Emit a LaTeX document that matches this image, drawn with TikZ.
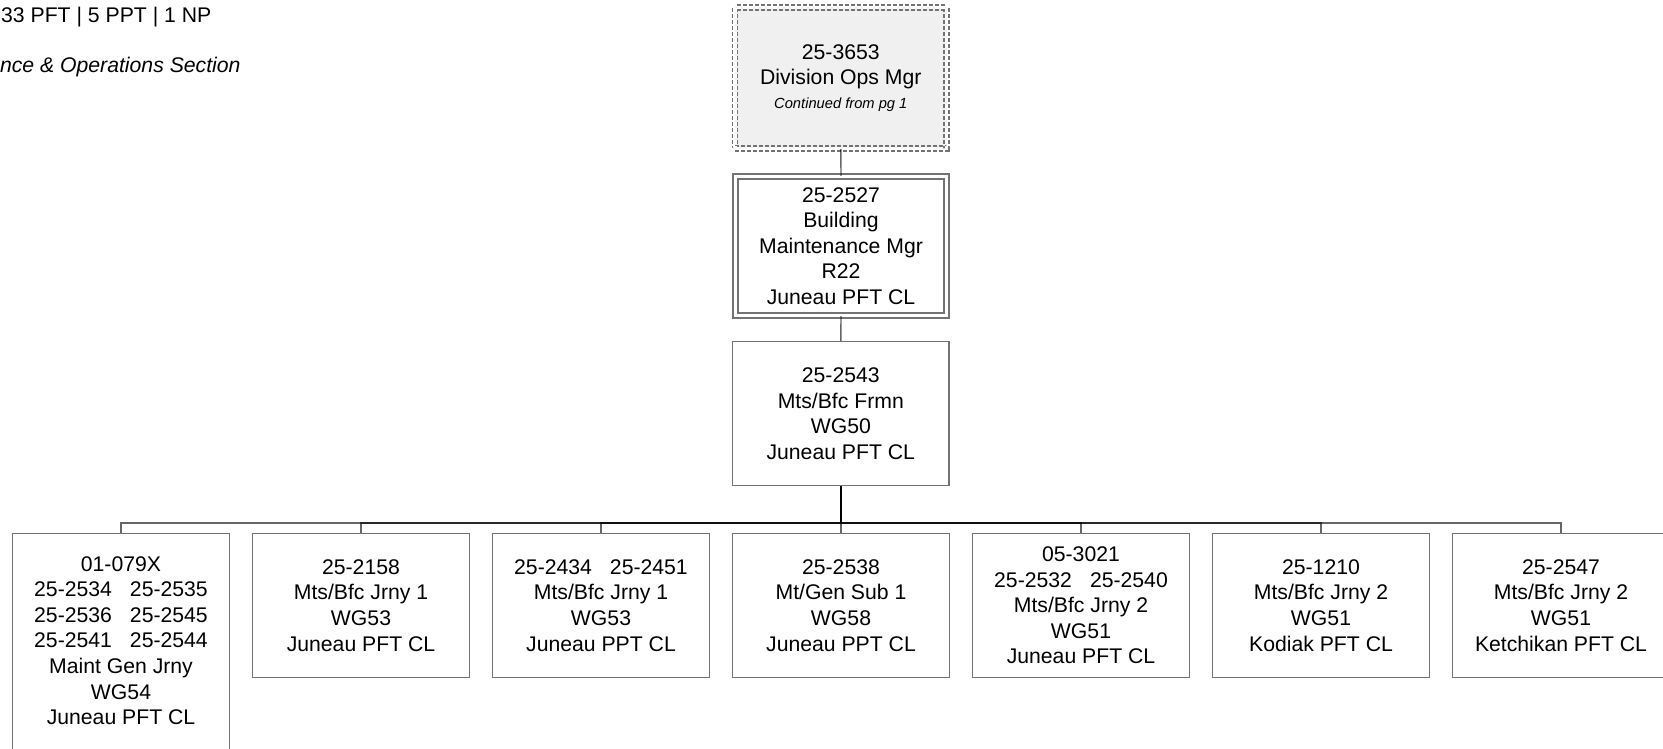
\documentclass[tikz,border=0pt]{standalone}
\usepackage{fontspec}
\setmainfont{Liberation Sans}
\newcommand{\orgfont}{\fontsize{21.2bp}{25.6bp}\selectfont}
\newcommand{\pcnpair}[2]{#1\hspace{0.85em}#2}
\tikzset{
  post/.style={draw=black!55, line width=1.4bp, align=center, inner sep=0pt,
    minimum width=216.6bp, minimum height=144bp, font=\orgfont},
  link/.style={draw=black, draw opacity=0.6, line width=1.4bp},
}
\begin{document}
\begin{tikzpicture}[x=1bp, y=-1bp]
  \useasboundingbox (0,0) rectangle (1663,749);
  % header lines, cut off at the page edge
  \node[anchor=base west, inner sep=0pt, font=\orgfont] (count) at (1,22.7) {33 PFT | 5 PPT | 1 NP};
  \node[anchor=base east, inner sep=0pt, font=\orgfont\itshape] (section) at (240.7,72.7) {nce \& Operations Section};

  \node[post, fill=black!6, dash pattern=on 4bp off 2bp, double, double distance=3.6bp,
    minimum width=211.5bp, minimum height=140.8bp] (divmgr) at (840.8,77.9)
    {25-3653\\Division Ops Mgr\\[-2bp]{\fontsize{14.7bp}{18bp}\selectfont\itshape Continued from pg 1}};
  \node[post, double, double distance=3.6bp, minimum width=211bp, minimum height=139bp] (bldmgr) at (841,246)
    {25-2527\\Building\\Maintenance Mgr\\R22\\Juneau PFT CL};
  \node[post] (frmn) at (840.8,413.7) {25-2543\\Mts/Bfc Frmn\\WG50\\Juneau PFT CL};

  % staff row (first box runs off the bottom of the page)
  \node[post, minimum height=222bp, text depth=8bp] (c1) at (121,644.4)
    {01-079X\\\pcnpair{25-2534}{25-2535}\\\pcnpair{25-2536}{25-2545}\\\pcnpair{25-2541}{25-2544}\\Maint Gen Jrny\\WG54\\Juneau PFT CL};
  \node[post] (c2) at (361,605.4) {25-2158\\Mts/Bfc Jrny 1\\WG53\\Juneau PFT CL};
  \node[post] (c3) at (601,605.4) {\pcnpair{25-2434}{25-2451}\\Mts/Bfc Jrny 1\\WG53\\Juneau PPT CL};
  \node[post] (c4) at (841,605.4) {25-2538\\Mt/Gen Sub 1\\WG58\\Juneau PPT CL};
  \node[post] (c5) at (1081,605.4) {05-3021\\\pcnpair{25-2532}{25-2540}\\Mts/Bfc Jrny 2\\WG51\\Juneau PFT CL};
  \node[post] (c6) at (1321,605.4) {25-1210\\Mts/Bfc Jrny 2\\WG51\\Kodiak PFT CL};
  \node[post] (c7) at (1561,605.4) {25-2547\\Mts/Bfc Jrny 2\\WG51\\Ketchikan PFT CL};

  \draw[link] (divmgr.south) -- (bldmgr.north);
  \draw[link] (bldmgr.south) -- (frmn.north);
  \foreach \i in {1,...,7} {
    \draw[link] (frmn.south) -- ++(0,36.6) -| (c\i.north);
  }
\end{tikzpicture}
\end{document}
